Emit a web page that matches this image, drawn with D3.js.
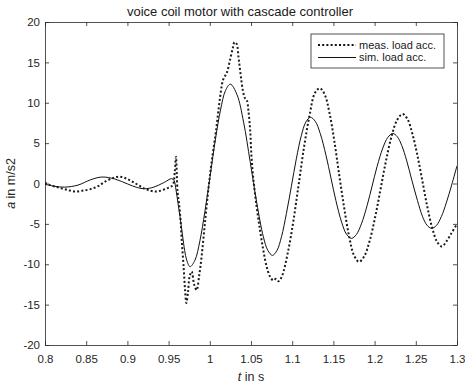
<!DOCTYPE html>
<html>
<head>
<meta charset="utf-8">
<script src="https://cdn.jsdelivr.net/npm/d3@7"></script>
<style>
  body { margin: 0; background: #fff; }
  svg { display: block; font-family: "Liberation Sans", Arial, sans-serif; }
  .eje path, .eje line { stroke: #262626; stroke-width: 0.8px; }
  .eje text { fill: #262626; font-size: 11.5px; font-family: "Liberation Sans", Arial, sans-serif; }
</style>
</head>
<body>
<div id="graf"></div>
<script>
// I. Datos
tTicks = [0.8, 0.85, 0.9, 0.95, 1, 1.05, 1.1, 1.15, 1.2, 1.25, 1.3]
aTicks = [-20, -15, -10, -5, 0, 5, 10, 15, 20]

// meas. load acc. (dotted)
measT = [0.800, 0.806, 0.813, 0.820, 0.828, 0.836, 0.845, 0.855, 0.865, 0.874,
         0.883, 0.891, 0.900, 0.910, 0.920, 0.928, 0.935, 0.943, 0.950, 0.955,
         0.9575, 0.959, 0.960, 0.961, 0.9626, 0.9645, 0.9659, 0.968, 0.970, 0.9715,
         0.9735, 0.9755, 0.978, 0.981, 0.984, 0.987, 0.990, 0.994, 0.9985, 1.002,
         1.0075, 1.0125, 1.016, 1.019, 1.021, 1.0245, 1.028, 1.030, 1.0325, 1.035,
         1.0375, 1.040, 1.0425, 1.045, 1.047, 1.049, 1.0505, 1.053, 1.057, 1.061,
         1.065, 1.069, 1.073, 1.077, 1.0805, 1.0835, 1.0875, 1.095, 1.1015, 1.108,
         1.1145, 1.121, 1.1275, 1.1335, 1.1395, 1.1455, 1.151, 1.157, 1.163, 1.169,
         1.175, 1.181, 1.1875, 1.194, 1.201, 1.2075, 1.214, 1.221, 1.2275, 1.234,
         1.240, 1.246, 1.252, 1.258, 1.264, 1.270, 1.276, 1.2815, 1.287, 1.293, 1.300]
measA = [0.1, -0.2, -0.4, -0.6, -0.8, -1.0, -0.9, -0.7, -0.3, 0.3,
         0.7, 0.85, 0.55, 0.0, -0.6, -0.9, -1.0, -0.8, -0.5, -0.2,
         1.5, 3.3, 1.0, -1.2, -2.4, -4.5, -7.0, -10.0, -13.2, -14.8,
         -13.5, -11.5, -10.9, -12.5, -13.2, -11.5, -9.1, -5.0, -0.5, 2.5,
         6.5, 10.7, 12.8, 13.4, 13.8, 15.3, 16.8, 17.5, 17.3, 15.5,
         13.4, 11.6, 10.6, 10.3, 8.9, 6.6, 3.5, 0.4, -3.0, -5.8,
         -8.3, -10.3, -11.5, -12.0, -11.8, -12.1, -11.5, -8.4, -4.6, 0.0,
         4.6, 8.4, 11.2, 11.8, 11.0, 8.6, 5.35, 1.1, -2.95, -6.5,
         -8.9, -9.7, -9.0, -7.1, -4.0, -0.55, 2.9, 6.0, 7.9, 8.6,
         7.95, 6.1, 3.45, 0.3, -2.9, -5.55, -7.25, -7.8, -7.2, -6.2, -5.0]

// sim. load acc. (solid)
simT = [0.800, 0.812, 0.824, 0.840, 0.855, 0.869, 0.885, 0.900, 0.912, 0.921,
        0.932, 0.944, 0.9537, 0.9565, 0.959, 0.9615, 0.9638, 0.967, 0.9695, 0.972,
        0.976, 0.982, 0.988, 0.994, 1.0005, 1.007, 1.013, 1.019, 1.025, 1.033,
        1.041, 1.049, 1.057, 1.065, 1.0705, 1.076, 1.0815, 1.087, 1.093, 1.099,
        1.105, 1.111, 1.1165, 1.122, 1.128, 1.134, 1.141, 1.147, 1.153, 1.160,
        1.166, 1.172, 1.178, 1.184, 1.191, 1.197, 1.203, 1.210, 1.216, 1.222,
        1.2275, 1.233, 1.239, 1.2455, 1.252, 1.258, 1.2635, 1.269, 1.275, 1.281,
        1.287, 1.2935, 1.300]
simA = [-0.1, -0.35, -0.45, -0.2, 0.45, 0.8, 0.55, -0.05, -0.5, -0.65,
        -0.45, 0.1, 0.6, 0.4, -0.8, -2.5, -4.1, -6.5, -8.3, -9.5,
        -10.3, -9.5, -7.1, -3.5, 1.0, 5.6, 9.1, 11.5, 12.3, 11.0,
        7.6, 2.7, -2.4, -6.6, -8.3, -8.9, -8.3, -6.6, -3.7, -0.35,
        3.05, 5.9, 7.6, 8.2, 7.7, 6.2, 3.5, 0.7, -2.1, -4.8,
        -6.3, -6.8, -6.3, -5.0, -2.7, -0.3, 2.1, 4.4, 5.7, 6.2,
        5.8, 4.7, 2.8, 0.3, -2.1, -4.05, -5.15, -5.55, -5.2, -4.1,
        -2.4, -0.2, 2.2]

// II. Configuracion
ancho_total = 465
alto_total = 386
margins = { top: 22, left: 45, right: 8, bottom: 41 }
ancho = ancho_total - margins.left - margins.right
alto = alto_total - margins.top - margins.bottom

svg = d3.select('#graf').append('svg')
        .attr('width', ancho_total)
        .attr('height', alto_total)

g = svg.append('g')
       .attr('transform', `translate(${ margins.left }, ${ margins.top })`)

x = d3.scaleLinear().domain([0.8, 1.3]).range([0, ancho])
y = d3.scaleLinear().domain([-20, 20]).range([alto, 0])

g.append('clipPath').attr('id', 'clip')
 .append('rect').attr('width', ancho).attr('height', alto)

// III. Ejes (ticks hacia adentro, caja completa)
g.append('g').attr('class', 'eje')
 .attr('transform', `translate(0, ${ alto })`)
 .call(d3.axisBottom(x).tickValues(tTicks).tickSizeInner(-4).tickSizeOuter(0)
        .tickPadding(10).tickFormat(d3.format('')))
g.append('g').attr('class', 'eje')
 .call(d3.axisTop(x).tickValues(tTicks).tickSizeInner(-4).tickSizeOuter(0).tickFormat(''))
g.append('g').attr('class', 'eje')
 .call(d3.axisLeft(y).tickValues(aTicks).tickSizeInner(-4).tickSizeOuter(0)
        .tickPadding(5).tickFormat(d3.format('')))
g.append('g').attr('class', 'eje')
 .attr('transform', `translate(${ ancho }, 0)`)
 .call(d3.axisRight(y).tickValues(aTicks).tickSizeInner(-4).tickSizeOuter(0).tickFormat(''))

g.selectAll('.eje text').text(function () { return this.textContent.replace('−', '-') })

// IV. Curvas
linea = d3.line()
          .x(d => x(d[0]))
          .y(d => y(d[1]))
          .curve(d3.curveCatmullRom.alpha(0.5))

meas = measT.map((t, i) => [t, measA[i]])
sim = simT.map((t, i) => [t, simA[i]])

g.append('path').datum(sim)
 .attr('clip-path', 'url(#clip)')
 .attr('d', linea)
 .attr('fill', 'none')
 .attr('stroke', '#111')
 .attr('stroke-width', 1)

g.append('path').datum(meas)
 .attr('clip-path', 'url(#clip)')
 .attr('d', linea)
 .attr('fill', 'none')
 .attr('stroke', '#1a1a1a')
 .attr('stroke-width', 2)
 .attr('stroke-dasharray', '2,2.2')

// V. Textos
svg.append('text')
   .attr('x', 240).attr('y', 16)
   .attr('text-anchor', 'middle')
   .style('font-size', '13px').style('fill', '#1a1a1a')
   .text('voice coil motor with cascade controller')

xl = svg.append('text')
   .attr('x', margins.left + ancho / 2).attr('y', 381)
   .attr('text-anchor', 'middle')
   .style('font-size', '12.5px').style('fill', '#262626')
xl.append('tspan').style('font-style', 'italic').text('t')
xl.append('tspan').text(' in s')

yl = svg.append('text')
   .attr('transform', `translate(15, ${ margins.top + alto / 2 }) rotate(-90)`)
   .attr('text-anchor', 'middle')
   .style('font-size', '12.5px').style('fill', '#262626')
yl.append('tspan').style('font-style', 'italic').text('a')
yl.append('tspan').text(' in m/s2')

// VI. Leyenda
leyenda = g.append('g').attr('transform', 'translate(266, 12)')
leyenda.append('rect')
       .attr('width', 133).attr('height', 34)
       .attr('fill', '#fff').attr('stroke', '#262626').attr('stroke-width', 0.8)
series = [
  { nombre: 'meas. load acc.', ancho: 2, dash: '2,2.2' },
  { nombre: 'sim. load acc.', ancho: 1, dash: null }
]
series.forEach((s, i) => {
  yy = 11 + i * 12.5
  leyenda.append('line')
         .attr('x1', 7).attr('x2', 45).attr('y1', yy).attr('y2', yy)
         .attr('stroke', '#111').attr('stroke-width', s.ancho)
         .attr('stroke-dasharray', s.dash)
  leyenda.append('text')
         .attr('x', 48).attr('y', yy).attr('dy', '0.35em')
         .style('font-size', '11px').style('fill', '#1a1a1a')
         .text(s.nombre)
})
</script>
</body>
</html>
